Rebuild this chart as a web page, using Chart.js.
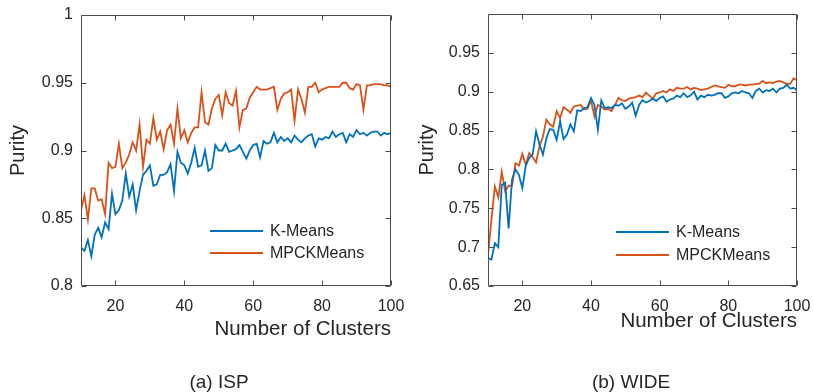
<!DOCTYPE html>
<html>
<head>
<meta charset="utf-8">
<script src="https://cdn.jsdelivr.net/npm/chart.js@4.4.1/dist/chart.umd.min.js"></script>
<style>
  html, body { margin: 0; padding: 0; background: #fff; }
  body { width: 813px; height: 392px; position: relative; overflow: hidden; font-family: "Liberation Sans", Arial, sans-serif; }
  #chartA { position: absolute; left: 0; top: 0; }
  #chartB { position: absolute; left: 410px; top: 0; }
  .caption { position: absolute; top: 372px; font-size: 19px; line-height: 19px; color: #262626; transform: translateX(-50%); white-space: nowrap; }
</style>
</head>
<body>
<canvas id="chartA" width="410" height="392"></canvas>
<canvas id="chartB" width="403" height="392"></canvas>
<div class="caption" style="left:219px">(a) ISP</div>
<div class="caption" style="left:631px">(b) WIDE</div>
<script>
// number of clusters (x axis)
const clusters = [10, 11, 12, 13, 14, 15, 16, 17, 18, 19,
  20, 21, 22, 23, 24, 25, 26, 27, 28, 29,
  30, 31, 32, 33, 34, 35, 36, 37, 38, 39,
  40, 41, 42, 43, 44, 45, 46, 47, 48, 49,
  50, 51, 52, 53, 54, 55, 56, 57, 58, 59,
  60, 61, 62, 63, 64, 65, 66, 67, 68, 69,
  70, 71, 72, 73, 74, 75, 76, 77, 78, 79,
  80, 81, 82, 83, 84, 85, 86, 87, 88, 89,
  90, 91, 92, 93, 94, 95, 96, 97, 98, 99, 100];

const xTicks = [20, 40, 60, 80, 100];
const yTicksISP = [0.8, 0.85, 0.9, 0.95, 1];
const yTicksWIDE = [0.65, 0.7, 0.75, 0.8, 0.85, 0.9, 0.95];

const seriesNames = ['K-Means', 'MPCKMeans'];
const seriesColors = ['#0072BD', '#D95319'];

// (a) ISP
const ispKMeans = [0.8285, 0.826, 0.834, 0.822, 0.838, 0.843, 0.836, 0.847, 0.842, 0.868,
  0.853, 0.856, 0.863, 0.883, 0.866, 0.875, 0.856, 0.870, 0.882, 0.885,
  0.889, 0.874, 0.875, 0.882, 0.882, 0.884, 0.890, 0.870, 0.899, 0.891,
  0.889, 0.883, 0.891, 0.902, 0.888, 0.889, 0.900, 0.885, 0.887, 0.904,
  0.900, 0.900, 0.905, 0.899, 0.900, 0.901, 0.904, 0.899, 0.894, 0.900,
  0.904, 0.905, 0.895, 0.907, 0.905, 0.906, 0.913, 0.906, 0.910, 0.907,
  0.909, 0.906, 0.911, 0.908, 0.906, 0.909, 0.911, 0.912, 0.903, 0.909,
  0.908, 0.910, 0.909, 0.914, 0.910, 0.912, 0.913, 0.906, 0.912, 0.910,
  0.915, 0.912, 0.913, 0.911, 0.913, 0.914, 0.914, 0.911, 0.913, 0.912, 0.913];
const ispMPCK = [0.856, 0.867, 0.849, 0.872, 0.872, 0.863, 0.864, 0.853, 0.891, 0.887,
  0.888, 0.905, 0.887, 0.891, 0.897, 0.906, 0.900, 0.919, 0.888, 0.908,
  0.905, 0.924, 0.908, 0.914, 0.901, 0.915, 0.919, 0.905, 0.931, 0.909,
  0.915, 0.906, 0.913, 0.917, 0.917, 0.943, 0.921, 0.919, 0.931, 0.938,
  0.941, 0.926, 0.943, 0.935, 0.933, 0.944, 0.917, 0.930, 0.931, 0.939,
  0.943, 0.947, 0.945, 0.945, 0.945, 0.946, 0.947, 0.930, 0.938, 0.942,
  0.943, 0.945, 0.922, 0.945, 0.938, 0.928, 0.947, 0.947, 0.950, 0.943,
  0.945, 0.946, 0.947, 0.947, 0.947, 0.947, 0.950, 0.950, 0.946, 0.945,
  0.949, 0.948, 0.930, 0.948, 0.948, 0.949, 0.949, 0.949, 0.948, 0.948, 0.947];

// (b) WIDE
const wideKMeans = [0.686, 0.684, 0.705, 0.700, 0.780, 0.783, 0.724, 0.787, 0.800, 0.793,
  0.776, 0.805, 0.815, 0.819, 0.849, 0.832, 0.819, 0.840, 0.852, 0.851,
  0.838, 0.862, 0.839, 0.845, 0.858, 0.849, 0.876, 0.875, 0.879, 0.880,
  0.892, 0.883, 0.851, 0.889, 0.879, 0.880, 0.879, 0.883, 0.882, 0.885,
  0.878, 0.881, 0.886, 0.869, 0.883, 0.889, 0.886, 0.888, 0.891, 0.888,
  0.892, 0.894, 0.887, 0.890, 0.891, 0.895, 0.893, 0.898, 0.893, 0.895,
  0.900, 0.890, 0.895, 0.893, 0.896, 0.895, 0.896, 0.898, 0.898, 0.892,
  0.894, 0.898, 0.899, 0.898, 0.901, 0.899, 0.898, 0.892, 0.901, 0.904,
  0.899, 0.902, 0.901, 0.904, 0.899, 0.904, 0.905, 0.909, 0.904, 0.905, 0.902];
const wideMPCK = [0.690, 0.735, 0.778, 0.764, 0.797, 0.772, 0.779, 0.779, 0.808, 0.805,
  0.820, 0.806, 0.821, 0.816, 0.809, 0.830, 0.842, 0.864, 0.858, 0.855,
  0.875, 0.866, 0.880, 0.877, 0.873, 0.881, 0.882, 0.883, 0.877, 0.878,
  0.889, 0.868, 0.883, 0.881, 0.877, 0.878, 0.875, 0.883, 0.892, 0.889,
  0.888, 0.891, 0.892, 0.893, 0.895, 0.893, 0.899, 0.895, 0.891, 0.898,
  0.899, 0.901, 0.899, 0.903, 0.901, 0.905, 0.904, 0.904, 0.906, 0.903,
  0.905, 0.904, 0.902, 0.903, 0.904, 0.906, 0.908, 0.907, 0.906, 0.905,
  0.909, 0.907, 0.907, 0.909, 0.909, 0.908, 0.909, 0.909, 0.910, 0.910,
  0.914, 0.911, 0.912, 0.911, 0.913, 0.914, 0.912, 0.910, 0.910, 0.917, 0.915];

const FONT = '"Liberation Sans", Arial, sans-serif';
const TEXT = '#262626';
const AXIS = '#4d4d4d';

// MATLAB-like box: inward ticks on all four sides, plus a legend inside the axes
const matlabBox = {
  id: 'matlabBox',
  afterDatasetsDraw(chart, args, opts) {
    const { ctx, chartArea: a, scales } = chart;
    const len = 5;
    ctx.save();
    ctx.strokeStyle = AXIS;
    ctx.lineWidth = 1;
    ctx.beginPath();
    const L = Math.round(a.left) + 0.5, R = Math.round(a.right) - 0.5;
    const T = Math.round(a.top) + 0.5, B = Math.round(a.bottom) - 0.5;
    ctx.rect(L, T, R - L, B - T);
    scales.x.ticks.forEach(t => {
      const px = Math.round(scales.x.getPixelForValue(t.value)) + 0.5;
      ctx.moveTo(px, B); ctx.lineTo(px, B - len);
      ctx.moveTo(px, T); ctx.lineTo(px, T + len);
    });
    scales.y.ticks.forEach(t => {
      const py = Math.round(scales.y.getPixelForValue(t.value)) + 0.5;
      ctx.moveTo(L, py); ctx.lineTo(L + len, py);
      ctx.moveTo(R, py); ctx.lineTo(R - len, py);
    });
    ctx.stroke();

    // legend
    ctx.font = '16px ' + FONT;
    ctx.textBaseline = 'middle';
    ctx.textAlign = 'left';
    chart.data.datasets.forEach((ds, i) => {
      const y = a.bottom - opts.rows[i];
      ctx.strokeStyle = ds.borderColor;
      ctx.lineWidth = 1.8;
      ctx.beginPath();
      ctx.moveTo(a.right - 181, y);
      ctx.lineTo(a.right - 128, y);
      ctx.stroke();
      ctx.fillStyle = TEXT;
      ctx.fillText(ds.label, a.right - 121, y + 1);
    });
    ctx.restore();
  }
};

function makeChart(id, cfg) {
  const datasets = cfg.series.map((arr, i) => ({
    label: seriesNames[i],
    data: clusters.map((x, j) => ({ x: x, y: arr[j] })),
    borderColor: seriesColors[i],
    backgroundColor: seriesColors[i],
    borderWidth: 1.8,
    pointRadius: 0,
    tension: 0,
    fill: false
  }));
  return new Chart(document.getElementById(id), {
    type: 'line',
    data: { datasets: datasets },
    plugins: [matlabBox],
    options: {
      responsive: false,
      animation: false,
      layout: { padding: { top: cfg.top, right: cfg.right, left: 0, bottom: 0 } },
      plugins: {
        legend: { display: false },
        tooltip: { enabled: false },
        matlabBox: { rows: cfg.legendRows }
      },
      scales: {
        x: {
          type: 'linear',
          min: 10,
          max: 100,
          afterBuildTicks: s => { s.ticks = xTicks.map(v => ({ value: v })); },
          afterFit: s => { s.height = 106; s.paddingLeft = 0; s.paddingRight = 0; },
          grid: { display: false, drawTicks: false },
          border: { display: false },
          ticks: { font: { size: 16, family: FONT }, color: TEXT, padding: 11, maxRotation: 0, autoSkip: false },
          title: {
            display: true, text: 'Number of Clusters', align: 'end',
            font: { size: 20.5, family: FONT }, color: TEXT,
            padding: { top: 0, bottom: cfg.xTitleBottom }
          }
        },
        y: {
          type: 'linear',
          min: cfg.yMin,
          max: 1,
          afterBuildTicks: s => { s.ticks = cfg.yTicks.map(v => ({ value: v })); },
          afterFit: s => { s.width = cfg.yWidth; s.paddingTop = 0; s.paddingBottom = 0; },
          grid: { display: false, drawTicks: false },
          border: { display: false },
          ticks: { font: { size: 16, family: FONT }, color: TEXT, padding: 8, callback: v => String(v) },
          title: {
            display: true, text: 'Purity',
            font: { size: 20, family: FONT }, color: TEXT,
            padding: { top: cfg.yTitleTop, bottom: 0 }
          }
        }
      }
    }
  });
}

makeChart('chartA', {
  series: [ispKMeans, ispMPCK],
  yMin: 0.8, yTicks: yTicksISP,
  top: 15, right: 19, yWidth: 81,
  xTitleBottom: 50, yTitleTop: 6,
  legendRows: [55, 33]
});

makeChart('chartB', {
  series: [wideKMeans, wideMPCK],
  yMin: 0.65, yTicks: yTicksWIDE,
  top: 14, right: 16, yWidth: 78,
  xTitleBottom: 58, yTitleTop: 5,
  legendRows: [54, 31]
});
</script>
</body>
</html>
